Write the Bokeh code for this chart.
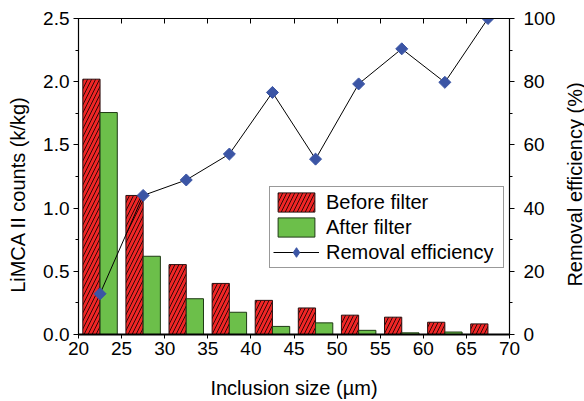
from bokeh.plotting import figure
from bokeh.layouts import row
from bokeh.models import (Range1d, LinearAxis, FixedTicker, PrintfTickFormatter,
                          Legend, LegendItem, ColumnDataSource, Label)
from bokeh.transform import dodge
from bokeh.embed import file_html
from bokeh.resources import INLINE
import math

# Inclusion size bins (µm, bin centres)
size_bins = [22.5, 27.5, 32.5, 37.5, 42.5, 47.5, 52.5, 57.5, 62.5, 67.5]
# LiMCA II counts (k/kg)
before_filter = [2.02, 1.10, 0.553, 0.404, 0.27, 0.21, 0.153, 0.137, 0.097, 0.084]
after_filter = [1.756, 0.619, 0.283, 0.176, 0.064, 0.092, 0.033, 0.013, 0.0196, 0.0]
# Removal efficiency (%)
removal_eff = [12.9, 44.0, 48.9, 57.1, 76.6, 55.5, 79.3, 90.4, 79.8, 100.0]

x_ticks = [20, 25, 30, 35, 40, 45, 50, 55, 60, 65, 70]
y_ticks = [0.0, 0.5, 1.0, 1.5, 2.0, 2.5]
y_minor = [0.25, 0.75, 1.25, 1.75, 2.25]
eff_ticks = [0, 20, 40, 60, 80, 100]
eff_minor = [10, 30, 50, 70, 90]

RED = "#f02626"
GREEN = "#6cbf4a"
BLUE = "#3b55a5"
FONT = "Liberation Sans"
TICK_SIZE = "19px"
TITLE_SIZE = "20px"
HEIGHT = 401

src = ColumnDataSource(dict(size=size_bins, before=before_filter,
                            after=after_filter, eff=removal_eff))

main = figure(width=526, height=HEIGHT, x_range=Range1d(20, 70),
              y_range=Range1d(0, 2.5), output_backend="svg", toolbar_location=None,
              min_border_left=46, min_border_right=46, min_border_top=18,
              min_border_bottom=65)
main.extra_y_ranges = {"eff": Range1d(0, 100)}
main.xgrid.visible = False
main.ygrid.visible = False
main.outline_line_color = "black"
main.background_fill_color = "white"
main.border_fill_color = "white"

r_before = main.vbar(x=dodge("size", -1.0, range=main.x_range), top="before",
                     width=2.0, bottom=0, source=src, fill_color=RED,
                     line_color="#2a1010", line_width=1, hatch_pattern="/",
                     hatch_color="black", hatch_scale=8, hatch_weight=0.8)
r_after = main.vbar(x=dodge("size", 1.0, range=main.x_range), top="after",
                    width=2.0, bottom=0, source=src, fill_color=GREEN,
                    line_color="#1e3a14", line_width=1)
r_line = main.line(x="size", y="eff", source=src, y_range_name="eff",
                   line_color="black", line_width=1)
# diamond key for the legend; sits beneath the turned squares below
r_key = main.scatter(x="size", y="eff", source=src, y_range_name="eff",
                     marker="diamond", size=8, fill_color=BLUE, line_color=BLUE)
# efficiency points: squares turned 45 degrees
main.scatter(x="size", y="eff", source=src, y_range_name="eff",
             marker="square", size=8.5, angle=math.pi / 4,
             fill_color=BLUE, line_color=BLUE)


def style_axis(ax):
    ax.axis_line_color = "black"
    ax.axis_line_width = 1.2
    ax.major_tick_line_color = "black"
    ax.minor_tick_line_color = "black"
    ax.major_label_text_font = FONT
    ax.major_label_text_font_size = TICK_SIZE
    ax.major_label_text_color = "black"
    ax.axis_label_text_font = FONT
    ax.axis_label_text_font_size = TITLE_SIZE
    ax.axis_label_text_font_style = "normal"
    ax.axis_label_text_color = "black"


xa = main.xaxis[0]
style_axis(xa)
xa.ticker = FixedTicker(ticks=x_ticks)
xa.axis_line_width = 2
xa.major_tick_in = 0
xa.major_tick_out = 4
xa.minor_tick_in = 0
xa.minor_tick_out = 0
xa.major_label_standoff = 3
xa.axis_label = "Inclusion size (µm)"
xa.axis_label_standoff = 19

ya = main.yaxis[0]
style_axis(ya)
ya.ticker = FixedTicker(ticks=y_ticks, minor_ticks=y_minor)
ya.formatter = PrintfTickFormatter(format="%.1f")
ya.major_tick_in = 0
ya.major_tick_out = 5
ya.minor_tick_in = 0
ya.minor_tick_out = 3
ya.major_label_standoff = 4

ra = LinearAxis(y_range_name="eff")
style_axis(ra)
ra.ticker = FixedTicker(ticks=eff_ticks, minor_ticks=eff_minor)
ra.major_tick_in = 0
ra.major_tick_out = 5
ra.minor_tick_in = 0
ra.minor_tick_out = 3
ra.major_label_standoff = 9
main.add_layout(ra, "right")

ta = LinearAxis()
style_axis(ta)
ta.ticker = FixedTicker(ticks=x_ticks)
ta.major_tick_in = 5
ta.major_tick_out = 0
ta.minor_tick_in = 0
ta.minor_tick_out = 0
ta.major_label_text_font_size = "0px"
ta.major_label_standoff = 0
main.add_layout(ta, "above")

legend = Legend(items=[
    LegendItem(label="Before filter", renderers=[r_before]),
    LegendItem(label="After filter", renderers=[r_after]),
    LegendItem(label="Removal efficiency", renderers=[r_line, r_key]),
], location=(191, 66))
legend.label_text_font = FONT
legend.label_text_font_size = TITLE_SIZE
legend.label_text_color = "black"
legend.glyph_width = 46
legend.glyph_height = 24
legend.label_height = 24
legend.label_width = 174
legend.spacing = 1
legend.padding = 3
legend.margin = 0
legend.label_standoff = 7
legend.border_line_color = "#333333"
legend.border_line_width = 1
legend.background_fill_alpha = 1
main.add_layout(legend, "center")


def title_strip(width, text, tx, ty):
    """Narrow blank panel holding one vertical axis title read bottom to top.

    Its frame lines up with the main frame, so (tx, ty) count from that
    frame's bottom edge."""
    f = figure(width=width, height=HEIGHT, x_axis_type=None, y_axis_type=None,
               output_backend="svg", toolbar_location=None, min_border=0)
    f.xgrid.visible = False
    f.ygrid.visible = False
    f.outline_line_color = None
    f.background_fill_color = "white"
    f.border_fill_color = "white"
    f.add_layout(Label(x=tx, y=ty, x_units="screen", y_units="screen", text=text,
                       angle=math.pi / 2, text_align="center",
                       text_baseline="middle", text_font=FONT,
                       text_font_size=TITLE_SIZE, text_color="black"))
    return f


left_strip = title_strip(32, "LiMCA II counts (k/kg)", 17, 140)
right_strip = title_strip(26, "Removal efficiency (%)", 16, 150)

p = row(left_strip, main, right_strip, spacing=0)

open("out.html", "w").write(file_html(p, INLINE))
